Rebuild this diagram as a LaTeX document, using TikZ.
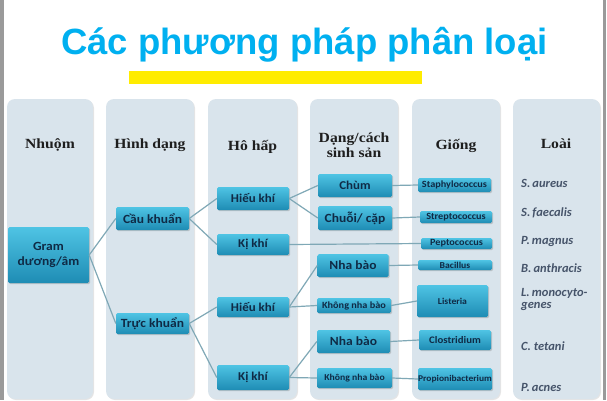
\documentclass[tikz,border=0pt]{standalone}
\usepackage{fontspec}
\setmainfont{Liberation Serif}
\newfontfamily\titlefont{Liberation Sans}
\newfontfamily\nodefont{Carlito}[FakeStretch=1.08]
\newfontfamily\specfont{Carlito}
\newfontfamily\headfont{Liberation Serif}[FakeStretch=1.12]
\usetikzlibrary{shadows}
\definecolor{titlec}{HTML}{00B0F0}
\definecolor{barc}{HTML}{FFEC00}
\definecolor{panelc}{HTML}{D9E4EC}
\definecolor{nodetop}{HTML}{4FC4E4}
\definecolor{nodebot}{HTML}{1E8CB4}
\definecolor{nodetext}{HTML}{0F2A45}
\definecolor{linec}{HTML}{7FA8B6}
\definecolor{specc}{HTML}{46546A}
\definecolor{headc}{HTML}{1E1E1E}
\definecolor{edgec}{HTML}{9A9A9A}
\begin{document}
\begin{tikzpicture}[x=1pt,y=-1pt,
  panel/.style={fill=panelc, rounded corners=8pt, draw=none,
    drop shadow={shadow xshift=1pt,shadow yshift=-1pt,opacity=0.2}},
  box/.style={rectangle, rounded corners=1.5pt, top color=nodetop, bottom color=nodebot,
    draw=none, inner sep=0pt, text=nodetext, align=center,
    drop shadow={shadow xshift=1.2pt, shadow yshift=-1.2pt, opacity=0.35}},
  bx/.style n args={3}{box, minimum width=#1, minimum height=#2,
    font=\nodefont\bfseries\fontsize{#3}{#3}\selectfont},
  head/.style={font=\headfont\bfseries\fontsize{14}{15}\selectfont, text=headc, anchor=base, align=center, inner sep=0pt},
  spec/.style={font=\specfont\bfseries\itshape\fontsize{12.5}{12}\selectfont, text=specc, anchor=base west, inner sep=0pt, align=left},
  link/.style={draw=linec, line width=1.2pt}
]
\useasboundingbox (0,0) rectangle (607,400);
\fill[white] (0,0) rectangle (607,400);
\fill[edgec] (0,0) rectangle (3.5,400);
\fill[edgec] (602.5,0) rectangle (605.5,400);

% title
\node[anchor=base, font=\titlefont\bfseries\fontsize{36.5}{40}\selectfont, text=titlec, inner sep=0pt] (title) at (304.5,54) {Các phương pháp phân loại};
\fill[barc] (129,71) rectangle (422,84);

% panels
\fill[panel] (7,99) rectangle (93,399);
\fill[panel] (106,99) rectangle (194,399);
\fill[panel] (208,99) rectangle (297,399);
\fill[panel] (310,99) rectangle (398,399);
\fill[panel] (412,99) rectangle (500,399);
\fill[panel] (513,99) rectangle (600,399);

% headers
\node[head] (h1) at (50,148) {Nhuộm};
\node[head] (h2) at (150,148) {Hình dạng};
\node[head] (h3) at (252.5,150) {Hô hấp};
\node[head] (h4) at (354,157) {Dạng/cách\\sinh sản};
\node[head] (h5) at (456,149) {Giống};
\node[head] (h6) at (556,148) {Loài};

% nodes
\node[bx={81pt}{56pt}{12.5}, font=\nodefont\bfseries\fontsize{12.5}{15}\selectfont] (gram) at (48.5,255) {Gram\\dương/âm};
\node[bx={73pt}{23pt}{12.5}] (cau) at (152.5,218.5) {Cầu khuẩn};
\node[bx={73pt}{21pt}{12.5}] (truc) at (152.5,323.5) {Trực khuẩn};
\node[bx={72pt}{23pt}{12}] (hk1) at (253,198.5) {Hiếu khí};
\node[bx={72pt}{21pt}{12}] (kk1) at (253,244.5) {Kị khí};
\node[bx={72pt}{20pt}{12}] (hk2) at (253,307) {Hiếu khí};
\node[bx={72pt}{25pt}{12}] (kk2) at (253,377.5) {Kị khí};
\node[bx={74pt}{23pt}{12}] (chum) at (355,185.5) {Chùm};
\node[bx={74pt}{24pt}{12.5}] (chuoi) at (355,218) {Chuỗi/ cặp};
\node[bx={71pt}{23pt}{12.5}] (nb1) at (353,265.5) {Nha bào};
\node[bx={74pt}{15pt}{9.5}] (knb1) at (354,305.5) {Không nha bào};
\node[bx={73pt}{23pt}{12.5}] (nb2) at (353.5,341.5) {Nha bào};
\node[bx={75pt}{20pt}{9}] (knb2) at (354.5,378) {Không nha bào};
\node[bx={73pt}{14pt}{9.5}] (staph) at (454.5,185) {Staphylococcus};
\node[bx={72pt}{12pt}{9.5}] (strep) at (456,217) {Streptococcus};
\node[bx={71pt}{11pt}{9.5}] (pepto) at (456.5,243.5) {Peptococcus};
\node[bx={74pt}{10pt}{9}] (bac) at (455,265) {Bacillus};
\node[bx={71pt}{32pt}{9}] (list) at (452.5,301) {Listeria};
\node[bx={72pt}{20pt}{10}] (clos) at (455,340) {Clostridium};
\node[bx={74pt}{22pt}{8.8}] (prop) at (455,379) {Propionibacterium};

% species
\node[spec] (s1) at (521,187) {S.\,aureus};
\node[spec] (s2) at (521,216) {S.\,faecalis};
\node[spec] (s3) at (521,244) {P.\,magnus};
\node[spec] (s4) at (521,272) {B.\,anthracis};
\node[spec] (s5) at (521,308) {L.\,monocyto-\\genes};
\node[spec] (s6) at (521,350) {C. tetani};
\node[spec] (s7) at (521,391) {P.\,acnes};

% connectors
\draw[link] (gram.east) -- (cau.west);
\draw[link] (gram.east) -- (truc.west);
\draw[link] (cau.east) -- (hk1.west);
\draw[link] (cau.east) -- (kk1.west);
\draw[link] (truc.east) -- (hk2.west);
\draw[link] (truc.east) -- (kk2.west);
\draw[link] (hk1.east) -- (chum.west);
\draw[link] (hk1.east) -- (chuoi.west);
\draw[link] (kk1.east) -- (pepto.west);
\draw[link] (hk2.east) -- (nb1.west);
\draw[link] (hk2.east) -- (knb1.west);
\draw[link] (kk2.east) -- (nb2.west);
\draw[link] (kk2.east) -- (knb2.west);
\draw[link] (chum.east) -- (staph.west);
\draw[link] (chuoi.east) -- (strep.west);
\draw[link] (nb1.east) -- (bac.west);
\draw[link] (knb1.east) -- (list.west);
\draw[link] (nb2.east) -- (clos.west);
\draw[link] (knb2.east) -- (prop.west);
\end{tikzpicture}
\end{document}
